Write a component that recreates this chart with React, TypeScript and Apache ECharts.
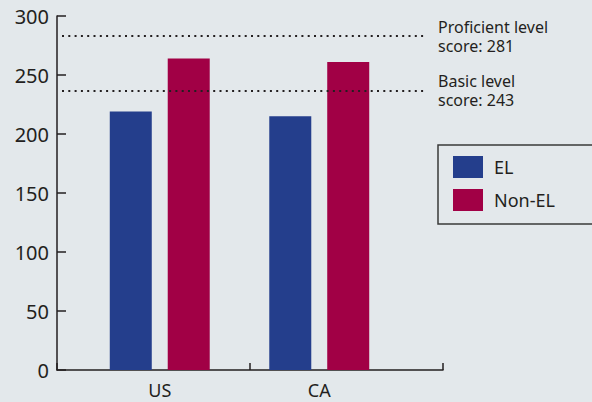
import React, { useEffect, useRef } from "react";
import * as echarts from "echarts";

const categories = ["US", "CA"];
const elValues = [219, 215];
const nonElValues = [264, 261];
const seriesNames = ["EL", "Non-EL"];
const refLevels = [283, 237];
const refLabels = ["Proficient level\nscore: 281", "Basic level\nscore: 243"];
const yTicks = { min: 0, max: 300, interval: 50 };

const INK = "#231f20";
const FONT = "Noto Sans";

export default function App() {
  const ref = useRef<HTMLDivElement>(null);
  useEffect(() => {
    if (!ref.current) return;
    const chart = echarts.init(ref.current, undefined, { renderer: "svg" });
    const top = 16;
    const bottom = 32;
    chart.setOption({
      animation: false,
      backgroundColor: "#e3e8eb",
      textStyle: { fontFamily: FONT, color: INK },
      legend: {
        orient: "vertical",
        left: 438,
        top: 145,
        data: seriesNames,
        icon: "rect",
        itemWidth: 30,
        itemHeight: 22,
        itemGap: 11,
        padding: [11, 50, 13, 15],
        borderColor: "#3a3a3a",
        borderWidth: 1.5,
        textStyle: { fontFamily: FONT, fontSize: 18, color: INK, padding: [0, 0, 0, 6] },
      },
      grid: [
        { left: 57, right: 149, top, bottom },
        { left: 80, right: 193, top, bottom },
        { left: 62, right: 166, top, bottom },
      ],
      xAxis: [
        {
          type: "category",
          gridIndex: 0,
          data: categories,
          axisLine: { show: true, lineStyle: { color: INK, width: 1.5 } },
          axisTick: { show: true, inside: true, length: 7, lineStyle: { color: INK, width: 1.5 } },
          axisLabel: { show: false },
        },
        {
          type: "category",
          gridIndex: 1,
          data: categories,
          axisLine: { show: false },
          axisTick: { show: false },
          axisLabel: { show: true, fontFamily: FONT, fontSize: 18, color: INK, margin: 11 },
        },
        { type: "value", gridIndex: 2, min: 0, max: 1, show: false },
      ],
      yAxis: [
        {
          type: "value",
          gridIndex: 0,
          min: yTicks.min,
          max: yTicks.max,
          interval: yTicks.interval,
          axisLine: { show: true, lineStyle: { color: INK, width: 1.5 } },
          axisTick: { show: true, inside: true, length: 9, lineStyle: { color: INK, width: 1.5 } },
          axisLabel: { fontFamily: FONT, fontSize: 20, color: INK, margin: 8 },
          splitLine: { show: false },
        },
        { type: "value", gridIndex: 1, min: yTicks.min, max: yTicks.max, show: false },
        { type: "value", gridIndex: 2, min: yTicks.min, max: yTicks.max, show: false },
      ],
      series: [
        {
          name: seriesNames[0],
          type: "bar",
          xAxisIndex: 1,
          yAxisIndex: 1,
          data: elValues,
          barWidth: 42,
          barGap: "38%",
          itemStyle: { color: "#243e8c" },
        },
        {
          name: seriesNames[1],
          type: "bar",
          xAxisIndex: 1,
          yAxisIndex: 1,
          data: nonElValues,
          barWidth: 42,
          barGap: "38%",
          itemStyle: { color: "#a10045" },
        },
        {
          name: "ref",
          type: "line",
          xAxisIndex: 2,
          yAxisIndex: 2,
          data: [],
          markLine: {
            silent: true,
            symbol: "none",
            lineStyle: { color: INK, width: 2, type: [2, 4.3] },
            label: {
              show: true,
              position: "end",
              distance: 12,
              fontFamily: FONT,
              fontSize: 16,
              color: INK,
              lineHeight: 19,
              align: "left",
            },
            data: refLevels.map((v, i) => ({
              yAxis: v,
              label: { formatter: refLabels[i] },
            })),
          },
        },
      ],
    });
    return () => chart.dispose();
  }, []);
  return (
    <div
      ref={ref}
      style={{ position: "fixed", left: 0, top: 0, width: 592, height: 402 }}
    />
  );
}
